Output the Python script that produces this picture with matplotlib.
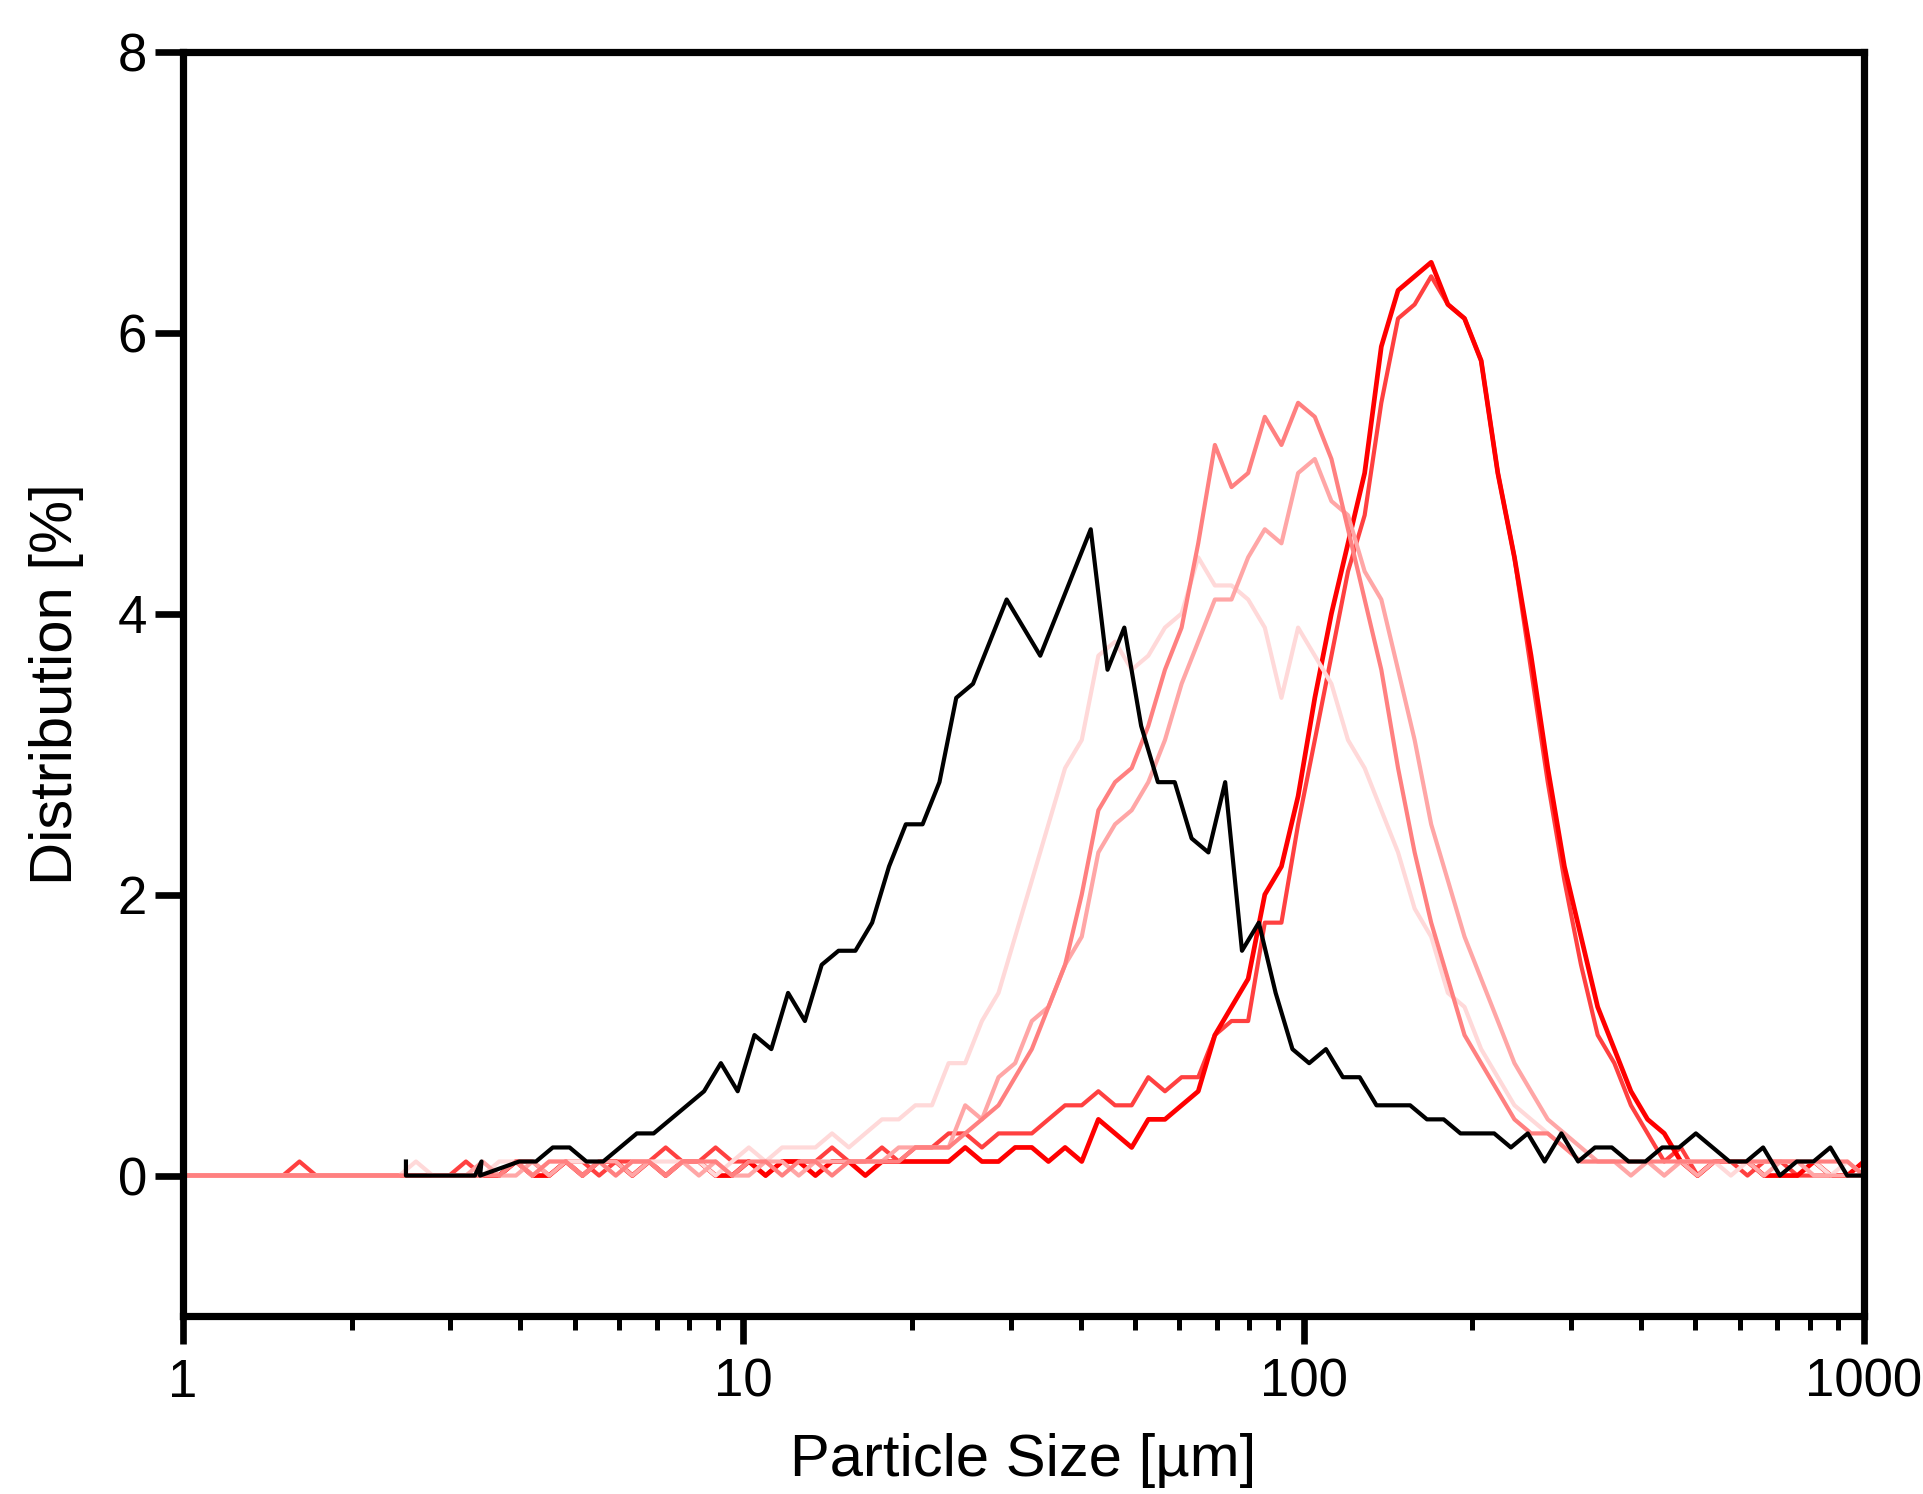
import matplotlib
matplotlib.use('Agg')
import matplotlib.pyplot as plt
from matplotlib.ticker import FixedLocator, NullFormatter

# size bins (um) of the red runs
size_red = [
    1.000, 1.071, 1.147, 1.228, 1.315, 1.408, 1.508, 1.614, 1.728, 1.851,
    1.982, 2.122, 2.272, 2.433, 2.605, 2.790, 2.987, 3.199, 3.425, 3.667,
    3.928, 4.205, 4.503, 4.823, 5.164, 5.529, 5.921, 6.339, 6.788, 7.269,
    7.784, 8.333, 8.923, 9.555, 10.23, 10.96, 11.73, 12.56, 13.45, 14.40,
    15.43, 16.51, 17.68, 18.94, 20.28, 21.71, 23.25, 24.89, 26.66, 28.54,
    30.56, 32.73, 35.04, 37.52, 40.18, 43.02, 46.07, 49.33, 52.82, 56.56,
    60.56, 64.85, 69.44, 74.35, 79.61, 85.25, 91.28, 97.75, 104.7, 112.1,
    120.0, 128.5, 137.6, 147.4, 157.8, 168.9, 180.9, 193.7, 207.4, 222.1,
    237.8, 254.6, 272.7, 292.0, 312.6, 334.8, 358.5, 383.8, 411.0, 440.1,
    471.3, 504.7, 540.4, 578.7, 619.6, 663.5, 710.5, 760.8, 814.6, 872.3,
    934.1, 1000.0]

red_1 = [
    0, 0, 0, 0, 0, 0, 0, 0, 0, 0,
    0, 0, 0, 0, 0, 0, 0, 0, 0, 0,
    0.1, 0, 0, 0.1, 0, 0.1, 0.1, 0, 0.1, 0,
    0.1, 0.1, 0, 0, 0.1, 0, 0.1, 0.1, 0, 0.1,
    0.1, 0, 0.1, 0.1, 0.1, 0.1, 0.1, 0.2, 0.1, 0.1,
    0.2, 0.2, 0.1, 0.2, 0.1, 0.4, 0.3, 0.2, 0.4, 0.4,
    0.5, 0.6, 1.0, 1.2, 1.4, 2.0, 2.2, 2.7, 3.4, 4.0,
    4.5, 5.0, 5.9, 6.3, 6.4, 6.5, 6.2, 6.1, 5.8, 5.0,
    4.4, 3.7, 2.9, 2.2, 1.7, 1.2, 0.9, 0.6, 0.4, 0.3,
    0.1, 0, 0.1, 0.1, 0.1, 0, 0, 0, 0.1, 0,
    0, 0.1]

red_2 = [
    0, 0, 0, 0, 0, 0, 0, 0.1, 0, 0,
    0, 0, 0, 0, 0, 0, 0, 0.1, 0, 0,
    0.1, 0.1, 0, 0.1, 0.1, 0, 0.1, 0.1, 0.1, 0.2,
    0.1, 0.1, 0.2, 0.1, 0.1, 0, 0.1, 0.1, 0.1, 0.2,
    0.1, 0.1, 0.2, 0.1, 0.2, 0.2, 0.3, 0.3, 0.2, 0.3,
    0.3, 0.3, 0.4, 0.5, 0.5, 0.6, 0.5, 0.5, 0.7, 0.6,
    0.7, 0.7, 1.0, 1.1, 1.1, 1.8, 1.8, 2.5, 3.1, 3.7,
    4.3, 4.7, 5.5, 6.1, 6.2, 6.4, 6.2, 6.1, 5.8, 5.0,
    4.4, 3.6, 2.8, 2.1, 1.5, 1.0, 0.8, 0.5, 0.3, 0.1,
    0.2, 0, 0.1, 0.1, 0, 0.1, 0.1, 0, 0, 0,
    0, 0]

red_3 = [
    0, 0, 0, 0, 0, 0, 0, 0, 0, 0,
    0, 0, 0, 0, 0, 0, 0, 0, 0, 0,
    0.1, 0, 0.1, 0.1, 0, 0.1, 0, 0.1, 0.1, 0,
    0.1, 0.1, 0.1, 0, 0.1, 0.1, 0, 0.1, 0.1, 0,
    0.1, 0.1, 0.1, 0.1, 0.2, 0.2, 0.2, 0.3, 0.4, 0.5,
    0.7, 0.9, 1.2, 1.5, 2.0, 2.6, 2.8, 2.9, 3.2, 3.6,
    3.9, 4.5, 5.2, 4.9, 5.0, 5.4, 5.2, 5.5, 5.4, 5.1,
    4.6, 4.1, 3.6, 2.9, 2.3, 1.8, 1.4, 1.0, 0.8, 0.6,
    0.4, 0.3, 0.3, 0.2, 0.1, 0.1, 0.1, 0.1, 0.1, 0.1,
    0.1, 0.1, 0.1, 0.1, 0.1, 0.1, 0.1, 0.1, 0.1, 0.1,
    0.1, 0]

red_4 = [
    0, 0, 0, 0, 0, 0, 0, 0, 0, 0,
    0, 0, 0, 0, 0, 0, 0, 0, 0.1, 0,
    0, 0.1, 0, 0.1, 0, 0.1, 0.1, 0, 0.1, 0,
    0.1, 0, 0.1, 0, 0, 0.1, 0.1, 0, 0.1, 0.1,
    0.1, 0.1, 0.1, 0.2, 0.2, 0.2, 0.2, 0.5, 0.4, 0.7,
    0.8, 1.1, 1.2, 1.5, 1.7, 2.3, 2.5, 2.6, 2.8, 3.1,
    3.5, 3.8, 4.1, 4.1, 4.4, 4.6, 4.5, 5.0, 5.1, 4.8,
    4.7, 4.3, 4.1, 3.6, 3.1, 2.5, 2.1, 1.7, 1.4, 1.1,
    0.8, 0.6, 0.4, 0.3, 0.2, 0.1, 0.1, 0, 0.1, 0,
    0.1, 0, 0.1, 0.1, 0.1, 0, 0.1, 0.1, 0, 0,
    0, 0]

red_5 = [
    0, 0, 0, 0, 0, 0, 0, 0, 0, 0,
    0, 0, 0, 0, 0.1, 0, 0, 0, 0, 0.1,
    0.1, 0, 0.1, 0.1, 0.1, 0.1, 0, 0.1, 0.1, 0.1,
    0.1, 0.1, 0, 0.1, 0.2, 0.1, 0.2, 0.2, 0.2, 0.3,
    0.2, 0.3, 0.4, 0.4, 0.5, 0.5, 0.8, 0.8, 1.1, 1.3,
    1.7, 2.1, 2.5, 2.9, 3.1, 3.7, 3.8, 3.6, 3.7, 3.9,
    4.0, 4.4, 4.2, 4.2, 4.1, 3.9, 3.4, 3.9, 3.7, 3.5,
    3.1, 2.9, 2.6, 2.3, 1.9, 1.7, 1.3, 1.2, 0.9, 0.7,
    0.5, 0.4, 0.3, 0.2, 0.1, 0.1, 0.1, 0.1, 0.1, 0,
    0.1, 0.1, 0.1, 0, 0.1, 0.1, 0.1, 0.1, 0.1, 0,
    0.1, 0]

# black run: a few odd points at the start, then its own bins
black_size = [
    2.50, 2.50, 3.32, 3.41, 3.39,
    3.981, 4.266, 4.571, 4.898, 5.248, 5.623, 6.026, 6.457, 6.918, 7.413,
    7.943, 8.511, 9.120, 9.772, 10.47, 11.22, 12.02, 12.88, 13.80, 14.79,
    15.85, 16.98, 18.20, 19.50, 20.89, 22.39, 23.99, 25.70, 27.54, 29.51,
    31.62, 33.88, 36.31, 38.90, 41.69, 44.67, 47.86, 51.29, 54.95, 58.88,
    63.10, 67.61, 72.44, 77.62, 83.18, 89.13, 95.50, 102.3, 109.6, 117.5,
    125.9, 134.9, 144.5, 154.9, 166.0, 177.8, 190.5, 204.2, 218.8, 234.4,
    251.2, 269.2, 288.4, 309.0, 331.1, 354.8, 380.2, 407.4, 436.5, 467.7,
    501.2, 537.0, 575.4, 616.6, 660.7, 707.9, 758.6, 812.8, 871.0, 933.3,
    1000.0]

black = [
    0.1, 0, 0, 0.1, 0,
    0.1, 0.1, 0.2, 0.2, 0.1, 0.1, 0.2, 0.3, 0.3, 0.4,
    0.5, 0.6, 0.8, 0.6, 1.0, 0.9, 1.3, 1.1, 1.5, 1.6,
    1.6, 1.8, 2.2, 2.5, 2.5, 2.8, 3.4, 3.5, 3.8, 4.1,
    3.9, 3.7, 4.0, 4.3, 4.6, 3.6, 3.9, 3.2, 2.8, 2.8,
    2.4, 2.3, 2.8, 1.6, 1.8, 1.3, 0.9, 0.8, 0.9, 0.7,
    0.7, 0.5, 0.5, 0.5, 0.4, 0.4, 0.3, 0.3, 0.3, 0.2,
    0.3, 0.1, 0.3, 0.1, 0.2, 0.2, 0.1, 0.1, 0.2, 0.2,
    0.3, 0.2, 0.1, 0.1, 0.2, 0, 0.1, 0.1, 0.2, 0,
    0]

x_ticks = [1, 10, 100, 1000]
x_tick_labels = ['1', '10', '100', '1000']
y_ticks = [0, 2, 4, 6, 8]

plt.rcParams['font.family'] = ['Liberation Sans', 'DejaVu Sans']

fig = plt.figure(figsize=(9.62, 7.47), dpi=200)
ax = fig.add_axes([0.0951, 0.1191, 0.8737, 0.8464])

ax.plot(size_red, red_2, color='#ff4040', lw=1.5)
ax.plot(size_red, red_1, color='#ff0000', lw=1.7)
ax.plot(size_red, red_5, color='#ffd9d9', lw=1.5)
ax.plot(size_red, red_4, color='#ffa6a6', lw=1.5)
ax.plot(size_red, red_3, color='#ff8080', lw=1.5)
ax.plot(black_size, black, color='black', lw=1.5)

ax.set_xscale('log')
ax.set_xlim(1, 1000)
ax.set_ylim(-1, 8)

ax.xaxis.set_major_locator(FixedLocator(x_ticks))
ax.set_xticklabels(x_tick_labels)
minor = [m * d for d in [1, 10, 100] for m in range(2, 10)]
ax.xaxis.set_minor_locator(FixedLocator(minor))
ax.xaxis.set_minor_formatter(NullFormatter())
ax.set_yticks(y_ticks)

ax.tick_params(which='major', length=10, width=2.4, labelsize=19)
ax.tick_params(axis='x', which='major', pad=5)
ax.tick_params(axis='y', which='major', pad=3)
ax.tick_params(which='minor', length=5, width=1.8)

for s in ax.spines.values():
    s.set_linewidth(2.6)

ax.set_xlabel('Particle Size [µm]', fontsize=21.5, labelpad=9)
ax.set_ylabel('Distribution [%]', fontsize=21.5, labelpad=12)

fig.savefig('out.png', dpi=200)
